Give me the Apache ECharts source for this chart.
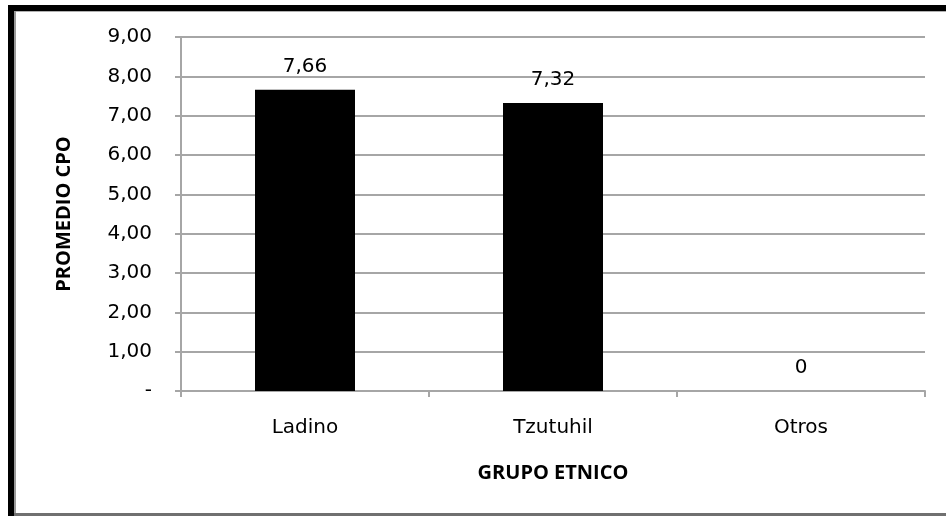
<!DOCTYPE html>
<html>
<head>
<meta charset="utf-8">
<script src="https://cdn.jsdelivr.net/npm/echarts@6/dist/echarts.min.js"></script>
<style>
  html, body { margin: 0; padding: 0; background: #ffffff; }
  #chart { width: 946px; height: 516px; }
</style>
</head>
<body>
<div id="chart"></div>
<script>
// Average CPO index by ethnic group
var categories = ['Ladino', 'Tzutuhil', 'Otros'];
var promedioCPO = [7.66, 7.32, 0];
var yTicks = [0, 1, 2, 3, 4, 5, 6, 7, 8, 9];

var gridColor = '#a6a6a6';
var textFont = 'DejaVu Sans';
var titleFont = 'Open Sans';

function fmtComma(v) {
  return v.toFixed(2).replace('.', ',');
}

var chart = echarts.init(document.getElementById('chart'), null, { renderer: 'canvas' });

chart.setOption({
  backgroundColor: '#ffffff',
  animation: false,
  graphic: [
    // outer frame: thick black on top and left, thin grey at the bottom
    { type: 'rect', shape: { x: 8, y: 5, width: 938, height: 6 }, style: { fill: '#000' }, z: 10 },
    { type: 'rect', shape: { x: 8, y: 5, width: 6, height: 511 }, style: { fill: '#000' }, z: 10 },
    { type: 'rect', shape: { x: 14, y: 11, width: 932, height: 1 }, style: { fill: '#b0b0b0' }, z: 10 },
    { type: 'rect', shape: { x: 14, y: 11, width: 2, height: 505 }, style: { fill: '#9a9a9a' }, z: 10 },
    { type: 'rect', shape: { x: 14, y: 513, width: 932, height: 3 }, style: { fill: '#707070' }, z: 10 }
  ],
  grid: { left: 181, right: 21, top: 37, bottom: 125, containLabel: false },
  xAxis: {
    type: 'category',
    data: categories,
    name: 'GRUPO ETNICO',
    nameLocation: 'middle',
    nameGap: 72,
    nameTextStyle: { fontFamily: titleFont, fontWeight: 'bold', fontSize: 20, color: '#000' },
    axisLine: { show: true, lineStyle: { color: gridColor, width: 2 } },
    axisTick: { show: true, alignWithLabel: false, length: 6, lineStyle: { color: gridColor, width: 2 } },
    axisLabel: { fontFamily: textFont, fontSize: 20, color: '#000', margin: 27 }
  },
  yAxis: {
    type: 'value',
    min: 0,
    max: 9,
    interval: 1,
    name: 'PROMEDIO CPO',
    nameLocation: 'middle',
    nameGap: 107,
    nameTextStyle: { fontFamily: titleFont, fontWeight: 'bold', fontSize: 20, color: '#000' },
    axisLine: { show: true, lineStyle: { color: gridColor, width: 2 } },
    axisTick: { show: true, inside: false, length: 6, lineStyle: { color: gridColor, width: 2 } },
    axisLabel: {
      fontFamily: textFont, fontSize: 20, color: '#000', margin: 29,
      formatter: function (v) {
        if (yTicks.indexOf(v) < 0) return '';
        return v === 0 ? '-' : fmtComma(v);
      }
    },
    splitLine: { show: true, lineStyle: { color: gridColor, width: 2 } }
  },
  series: [{
    type: 'bar',
    data: promedioCPO,
    barWidth: 100,
    itemStyle: { color: '#000000' },
    label: {
      show: true,
      position: 'top',
      distance: 13,
      fontFamily: textFont,
      fontSize: 20,
      color: '#000',
      formatter: function (p) {
        return p.value === 0 ? '0' : fmtComma(p.value);
      }
    }
  }]
});
</script>
</body>
</html>
